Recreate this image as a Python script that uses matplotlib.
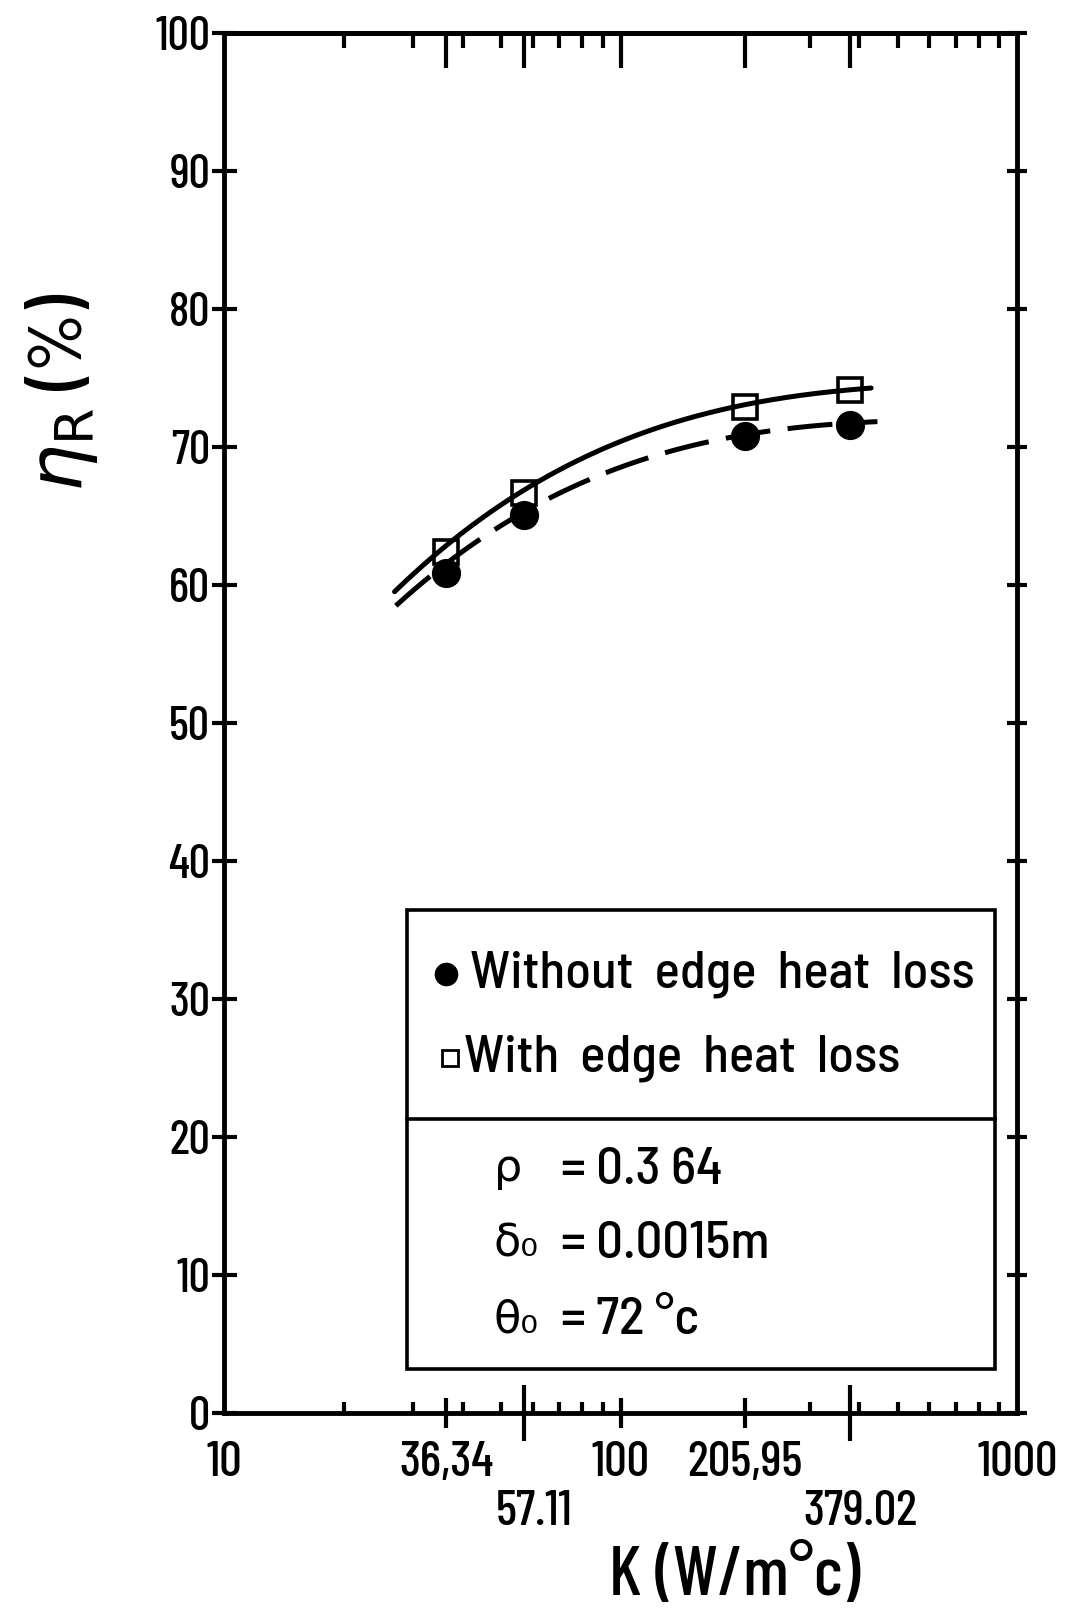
import numpy as np
import matplotlib.pyplot as plt
import matplotlib.transforms as mtransforms
from matplotlib.patches import Rectangle

plt.rcParams['font.family'] = ['Barlow Condensed', 'DejaVu Sans']
plt.rcParams['font.weight'] = 'medium'
plt.rcParams['mathtext.fontset'] = 'dejavusans'
box_font = ['Barlow Semi Condensed', 'DejaVu Sans']

# data
k_points = [36.34, 57.11, 205.95, 379.02]
eta_without = [60.9, 65.1, 70.8, 71.6]   # filled circles
eta_with = [62.4, 66.7, 72.9, 74.1]      # open squares

# hand drawn curves
k_solid = [26.9, 36.34, 57.11, 100, 205.95, 379.02, 428]
eta_solid = [59.6, 62.7, 67.0, 70.4, 73.1, 74.0, 74.4]
k_dashed = [27.1, 36.34, 57.11, 100, 205.95, 379.02, 444]
eta_dashed = [58.6, 61.4, 65.3, 68.7, 70.8, 71.7, 71.9]

major_k = [10, 36.34, 57.11, 100, 205.95, 379.02, 1000]
major_labels = ['10', '36,34', '', '100', '205,95', '', '1000']
low_k = [57.11, 379.02]
low_labels = ['57.11', '379.02']
minor_k = [20, 30, 40, 50, 60, 70, 80, 90, 300, 400, 500, 600, 700, 800, 900]
y_ticks = [0, 10, 20, 30, 40, 50, 60, 70, 80, 90, 100]


def smooth(kx, ky, n=200):
    lx = np.log10(kx)
    c = np.polyfit(lx, ky, 3)
    xs = np.linspace(lx[0], lx[-1], n)
    return 10 ** xs, np.polyval(c, xs)


fig = plt.figure(figsize=(10.88, 16.14), dpi=100)
ax = fig.add_axes([0.206, 0.1245, 0.729, 0.855])
ax.set_xscale('log')
ax.set_xlim(10, 1000)
ax.set_ylim(0, 100)

xs, ys = smooth(k_solid, eta_solid)
ax.plot(xs, ys, color='black', lw=3.6, solid_capstyle='round')
xs, ys = smooth(k_dashed, eta_dashed)
ax.plot(xs, ys, color='black', lw=3.6, dashes=(9, 3.5))

ax.plot(k_points, eta_without, 'o', color='black', ms=20, zorder=4)
ax.plot(k_points, eta_with, 's', mfc='none', mec='black', mew=2.6, ms=17, zorder=5)

for s in ax.spines.values():
    s.set_linewidth(3.5)

# x axis
ax.set_xticks(major_k, labels=major_labels)
ax.set_xticks(minor_k, minor=True)
ax.xaxis.set_minor_formatter(plt.NullFormatter())
ax.tick_params(axis='x', which='major', direction='inout', length=22, width=3,
               labelsize=36, pad=9)
ax.tick_params(axis='x', which='minor', direction='in', length=8, width=3)
for t, v in zip(ax.xaxis.get_major_ticks(), major_k):
    if v in (10, 1000):
        t.tick1line.set_visible(False)
    if v in low_k:
        t.tick1line.set_markersize(40)

trans = mtransforms.blended_transform_factory(ax.transData, ax.transAxes)
for v, lab in zip(low_k, low_labels):
    ax.text(v * 1.06, -0.072, lab, transform=trans, ha='center', va='center',
            fontsize=36)

top = ax.secondary_xaxis('top')
top.set_xticks(major_k[1:-1], labels=[])
top.set_xticks(minor_k, minor=True)
top.xaxis.set_minor_formatter(plt.NullFormatter())
top.tick_params(which='major', direction='in', length=25, width=3)
top.tick_params(which='minor', direction='in', length=11, width=3)
top.spines['top'].set_linewidth(3.5)

# y axis
ax.set_yticks(y_ticks)
ax.tick_params(axis='y', which='both', direction='inout', length=18, width=3,
               labelsize=34, pad=1, right=True)
ax.yaxis.set_minor_locator(plt.NullLocator())
for t in ax.yaxis.get_major_ticks():
    t.tick2line.set_markersize(14)

ax.text(-0.205, 0.74, r'$\eta_{\mathrm{R}}$ (%)', transform=ax.transAxes,
        rotation=90, ha='center', va='center', fontsize=54)
ax.text(0.644, -0.119, 'K (W/m°c)', transform=ax.transAxes,
        ha='center', va='center', fontsize=50)

# legend / parameter box
box = Rectangle((0.231, 0.032), 0.741, 0.3325, transform=ax.transAxes,
                fill=True, facecolor='white', edgecolor='black', lw=2.6, zorder=6)
ax.add_patch(box)
ax.plot([0.231, 0.972], [0.213, 0.213], transform=ax.transAxes,
        color='black', lw=2.6, zorder=7)
ax.plot([0.28], [0.318], 'o', color='black', ms=16, transform=ax.transAxes, zorder=7)
ax.plot([0.285], [0.257], 's', mfc='none', mec='black', mew=2, ms=12,
        transform=ax.transAxes, zorder=7)
ax.text(0.31, 0.318, 'Without  edge  heat  loss', transform=ax.transAxes,
        fontsize=38, va='center', zorder=7, family=box_font)
ax.text(0.303, 0.257, 'With  edge  heat  loss', transform=ax.transAxes,
        fontsize=38, va='center', zorder=7, family=box_font)
params = [('ρ', '= 0.3 64', 0.176), ('δ₀', '= 0.0015m', 0.122), ('θ₀', '= 72 °c', 0.067)]
for sym, val, yy in params:
    ax.text(0.34, yy, sym, transform=ax.transAxes, fontsize=32, va='center', zorder=7)
    ax.text(0.425, yy, val, transform=ax.transAxes, fontsize=38, va='center',
            zorder=7, family=box_font)

fig.savefig('out.png', dpi=100)
